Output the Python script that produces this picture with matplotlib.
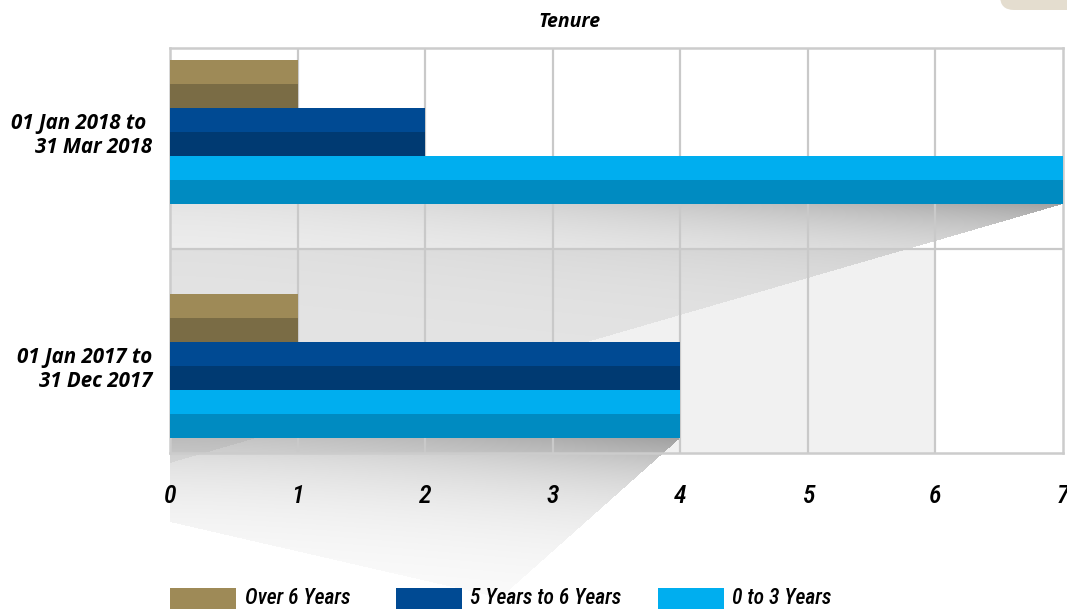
import matplotlib
matplotlib.use("Agg")
import matplotlib.pyplot as plt
import numpy as np
from matplotlib.patches import Rectangle, FancyBboxPatch
from matplotlib.path import Path
from matplotlib import font_manager as fm

# ---------------- data ----------------
categories = ["01 Jan 2017 to\n31 Dec 2017", "01 Jan 2018 to \n31 Mar 2018"]  # bottom -> top
series_names = ["Over 6 Years", "5 Years to 6 Years", "0 to 3 Years"]
over_6_years = [1, 1]
years_5_to_6 = [4, 2]
years_0_to_3 = [4, 7]
xticks = [0, 1, 2, 3, 4, 5, 6, 7]
title = "Tenure"

light_colors = ["#9e8a57", "#004a93", "#00aeef"]
dark_colors = ["#7a6c45", "#003a72", "#008bc1"]

# ---------------- fonts ----------------
names = {f.name for f in fm.fontManager.ttflist}
cond_family = None
for cand in ["Roboto Condensed", "Liberation Sans Narrow", "Open Sans Condensed",
             "DejaVu Sans Condensed"]:
    if cand in names:
        cond_family = cand
        break
cond_fam = [cond_family] if cond_family else ["DejaVu Sans"]
tick_kw = dict(family=cond_fam, style="italic", weight="medium")
leg_kw = dict(family=cond_fam, style="italic", weight="medium")
main_kw = dict(family=["Open Sans", "DejaVu Sans"], style="italic", weight="bold")

# ---------------- figure ----------------
W, H = 1067, 609
fig = plt.figure(figsize=(W / 100, H / 100), dpi=100)
bg = fig.add_axes([0, 0, 1, 1], zorder=0)
bg.set_xlim(0, W)
bg.set_ylim(H, 0)
bg.axis("off")

ax = fig.add_axes([170 / W, (H - 453) / H, (1063 - 170) / W, (453 - 48) / H], zorder=1)
ax.set_facecolor("none")
ax.set_xlim(0, 7)
ax.set_ylim(-0.372, 1.359)

h = 48 / 234
ypos = np.arange(len(categories))
series = [over_6_years, years_5_to_6, years_0_to_3]
for i, vals in enumerate(series):
    off = (1 - i) * h
    c = ypos + off
    ax.barh(c, vals, height=h / 2, align="edge", color=light_colors[i],
            label=series_names[i], zorder=3, linewidth=0)
    ax.barh(c - h / 2, vals, height=h / 2, align="edge", color=dark_colors[i],
            zorder=3, linewidth=0)

grid_c = "#c9c9c9"
for x in xticks[1:-1]:
    ax.axvline(x, color=grid_c, lw=1.6, zorder=2)
ax.axhline(0.5, color=grid_c, lw=1.6, zorder=2)
for s in ax.spines.values():
    s.set_color("#cccccc")
    s.set_linewidth(1.8)
    s.set_zorder(2)

ax.set_xticks(xticks)
ax.set_xticklabels([str(t) for t in xticks], fontsize=18.5, **tick_kw)
ax.set_yticks(ypos)
ax.set_yticklabels(categories, fontsize=14.8, linespacing=1.15, **main_kw)
ax.tick_params(axis="both", length=0)
ax.tick_params(axis="x", pad=22)
ax.tick_params(axis="y", pad=13)

fig.canvas.draw()


def px(x, y):
    d = ax.transData.transform((x, y))
    return d[0], H - d[1]


# ---------------- background shading & shadows ----------------
img = np.ones((H, W, 3))
YY, XX = np.mgrid[0:H, 0:W]
pts = np.column_stack([XX.ravel() + 0.5, YY.ravel() + 0.5])

# light grey panel behind lower group
gx0, gy0 = px(0, 0.5)
gx1, gy1 = px(6, ax.get_ylim()[0])
panel = (XX >= gx0) & (XX <= gx1) & (YY >= gy0) & (YY <= gy1)
img[panel] = 0xf1 / 255


def shadow(poly, ytop, xl, xr, dmin, dmax, decay, floor):
    mask = Path(poly).contains_points(pts).reshape(H, W)
    t = np.clip((XX - xl) / max(xr - xl, 1), 0, 1) ** 1.6
    dy = np.clip(YY - ytop, 0, None)
    dark = floor + (dmin + (dmax - dmin) * t) * np.exp(-dy / decay)
    a = (dark / 255.0)[..., None]
    img[mask] = (img * (1 - a))[mask]


# shadow below the longest upper bar
top_end = years_0_to_3[1]
x0, yb = px(0, 1 - h - h / 2)
x7, _ = px(top_end, 1 - h - h / 2)
slope = 0.29
shadow([(x0, yb), (x7, yb), (x0, yb + (x7 - x0) * slope)], yb, x0, x7, 14, 80, 45, 13)

# shadow below the lower group's last bar
bot_end = years_0_to_3[0]
x0b, yb2 = px(0, 0 - h - h / 2)
x4, _ = px(bot_end, 0 - h - h / 2)
mask_poly = [(x0b, yb2), (x4, yb2), (x4 - 180, 598), (x0b, 522)]
shadow(mask_poly, yb2, x0b, x4, 45, 85, 60, 0)

bg.imshow(img, extent=(0, W, H, 0), interpolation="nearest", zorder=0, aspect="auto")

# decorative corner shape top-right
bg.add_patch(FancyBboxPatch((1000, -20), 120, 30, boxstyle="round,pad=0,rounding_size=14",
                            fc="#e4ddcf", ec="none", zorder=1))

# ---------------- title ----------------
fig.text(569 / W, 1 - 22 / H, title, ha="center", va="center", fontsize=14, **main_kw)

# ---------------- legend ----------------
leg_patch_x = [170, 396, 658]
leg_text_x = [245, 470, 732]
for i, name in enumerate(series_names):
    bg.add_patch(Rectangle((leg_patch_x[i], 588), 66, 24, fc=light_colors[i], ec="none", zorder=2))
    bg.text(leg_text_x[i], 599, name, ha="left", va="center", fontsize=15.5, zorder=2, **leg_kw)

fig.savefig("out.png", dpi=100)
